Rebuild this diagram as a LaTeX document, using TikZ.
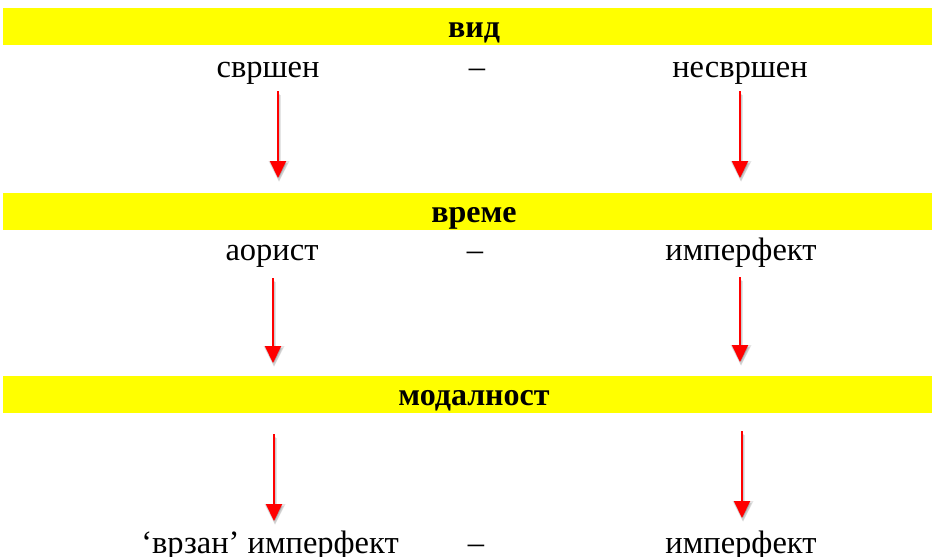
\documentclass[tikz,border=0pt]{standalone}
\usepackage{fontspec}
\setmainfont{Liberation Serif}
\usetikzlibrary{arrows.meta}
\definecolor{baryellow}{RGB}{255,255,0}
\tikzset{
  bar/.style={fill=baryellow, draw=none},
  head/.style={font=\fontsize{32}{32}\selectfont\bfseries, anchor=base, inner sep=0pt},
  term/.style={font=\fontsize{32.5}{33}\selectfont, anchor=base, inner sep=0pt},
  redarrow/.style={draw=red, line width=2pt, -{Triangle[width=16pt,length=17pt]}},
  shadowarrow/.style={draw=black, opacity=0.10, line width=4pt, -{Triangle[width=20pt,length=21pt]}}
}
\begin{document}
\begin{tikzpicture}[x=1pt,y=-1pt]
\useasboundingbox (0,0) rectangle (932,557);
% bars
\fill[bar] (3,8) rectangle (932,45);
\fill[bar] (3,193) rectangle (932,230);
\fill[bar] (3,376) rectangle (932,413);
% headers
\node[head] (vid) at (474,37) {вид};
\node[head] (vreme) at (474,222) {време};
\node[head] (modal) at (474,405) {модалност};
% row 1
\node[term] (svrshen) at (268,77) {свршен};
\node[term] (dash1) at (477,77) {–};
\node[term] (nesvrshen) at (740,77) {несвршен};
% row 2
\node[term] (aorist) at (272,260) {аорист};
\node[term] (dash2) at (475,260) {–};
\node[term] (imperf1) at (741,260) {имперфект};
% row 3
\node[term] (vrzan) at (270,553) {‘врзан’ имперфект};
\node[term] (dash3) at (476,553) {–};
\node[term] (imperf2) at (741,553) {имперфект};
% arrow coordinates
\coordinate (a1s) at (278,91);  \coordinate (a1e) at (278,178);
\coordinate (a2s) at (740,91);  \coordinate (a2e) at (740,178);
\coordinate (a3s) at (273,278); \coordinate (a3e) at (273,363);
\coordinate (a4s) at (740,277); \coordinate (a4e) at (740,362);
\coordinate (a5s) at (274,434); \coordinate (a5e) at (274,521);
\coordinate (a6s) at (742,431); \coordinate (a6e) at (742,518);
% shadows (soft, two layers)
\foreach \s/\e in {a1s/a1e,a2s/a2e,a3s/a3e,a4s/a4e,a5s/a5e,a6s/a6e}{
  \draw[shadowarrow] ([xshift=1pt,yshift=-4pt]\s) -- ([xshift=1pt,yshift=-4pt]\e);
  \draw[shadowarrow, line width=2.5pt, -{Triangle[width=17pt,length=18pt]}] ([xshift=1pt,yshift=-3pt]\s) -- ([xshift=1pt,yshift=-3pt]\e);
}
% arrows
\foreach \s/\e in {a1s/a1e,a2s/a2e,a3s/a3e,a4s/a4e,a5s/a5e,a6s/a6e}{
  \draw[redarrow] (\s) -- (\e);
}
\end{tikzpicture}
\end{document}
